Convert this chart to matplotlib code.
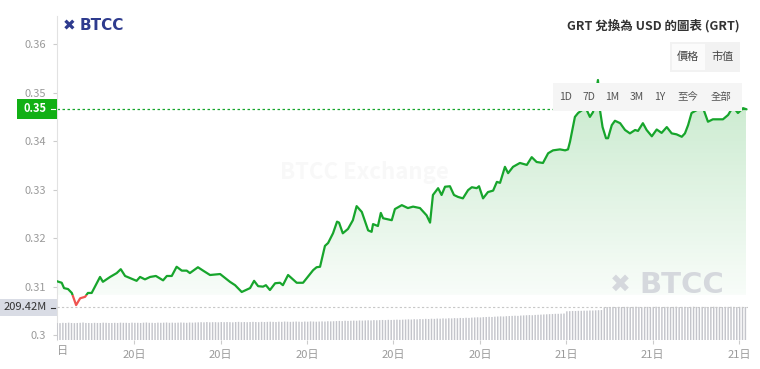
import numpy as np
import matplotlib
matplotlib.use("Agg")
import matplotlib.pyplot as plt
import matplotlib.patches as mpatches
from matplotlib.path import Path
from matplotlib.transforms import blended_transform_factory

plt.rcParams['font.family'] = ['Noto Sans CJK TC', 'DejaVu Sans']

# ---- data ----
# time in hours from the first (clipped) tick, price in USD
hours = [0.32, 0.48, 0.56, 0.70, 0.83, 0.98, 1.12, 1.29, 1.39, 1.52,
         1.81, 1.91, 2.16, 2.39, 2.53, 2.68, 3.08, 3.20, 3.37, 3.55,
         3.75, 4.00, 4.13, 4.30, 4.47, 4.65, 4.82, 4.93, 5.21, 5.39,
         5.63, 5.98, 6.32, 6.50, 6.73, 7.02, 7.16, 7.30, 7.47, 7.57,
         7.71, 7.89, 8.06, 8.16, 8.34, 8.64, 8.86, 9.21, 9.33, 9.45,
         9.62, 9.73, 9.90, 10.04, 10.11, 10.24, 10.42, 10.59, 10.72, 10.90,
         11.12, 11.24, 11.29, 11.46, 11.56, 11.64, 11.94, 12.05, 12.29, 12.50,
         12.68, 12.92, 13.15, 13.27, 13.37, 13.55, 13.67, 13.79, 13.96, 14.10,
         14.24, 14.41, 14.59, 14.72, 14.89, 14.97, 15.11, 15.28, 15.46, 15.59,
         15.70, 15.87, 15.98, 16.15, 16.39, 16.63, 16.80, 16.97, 17.19, 17.37,
         17.54, 17.78, 17.96, 18.06, 18.13, 18.30, 18.41, 18.55, 18.68, 18.82,
         18.93, 19.10, 19.17, 19.26, 19.38, 19.45, 19.58, 19.69, 19.87, 20.04,
         20.21, 20.39, 20.49, 20.66, 20.79, 20.97, 21.14, 21.31, 21.49, 21.66,
         21.83, 22.01, 22.12, 22.23, 22.35, 22.53, 22.75, 22.92, 23.09, 23.44,
         23.62, 23.79, 23.96, 24.14, 24.24]
price = [0.3111, 0.3108, 0.3097, 0.3095, 0.3087, 0.3062, 0.3076, 0.3079, 0.3087, 0.3087,
         0.3120, 0.3110, 0.3120, 0.3128, 0.3136, 0.3122, 0.3112, 0.3120, 0.3115, 0.3120,
         0.3122, 0.3113, 0.3122, 0.3122, 0.3141, 0.3133, 0.3133, 0.3128, 0.3140, 0.3133,
         0.3124, 0.3126, 0.3110, 0.3103, 0.3089, 0.3097, 0.3112, 0.3101, 0.3100, 0.3103,
         0.3093, 0.3107, 0.3108, 0.3103, 0.3124, 0.3108, 0.3108, 0.3134, 0.3140, 0.3141,
         0.3184, 0.3190, 0.3210, 0.3234, 0.3232, 0.3210, 0.3219, 0.3237, 0.3266, 0.3254,
         0.3216, 0.3213, 0.3229, 0.3225, 0.3252, 0.3241, 0.3237, 0.3260, 0.3268, 0.3262,
         0.3265, 0.3262, 0.3247, 0.3232, 0.3289, 0.3303, 0.3289, 0.3306, 0.3307, 0.3289,
         0.3285, 0.3282, 0.3299, 0.3305, 0.3303, 0.3307, 0.3282, 0.3295, 0.3298, 0.3316,
         0.3314, 0.3347, 0.3334, 0.3347, 0.3355, 0.3351, 0.3367, 0.3357, 0.3355, 0.3375,
         0.3381, 0.3383, 0.3381, 0.3383, 0.3399, 0.3450, 0.3458, 0.3464, 0.3468, 0.3450,
         0.3460, 0.3526, 0.3464, 0.3429, 0.3406, 0.3406, 0.3433, 0.3442, 0.3437, 0.3423,
         0.3416, 0.3423, 0.3421, 0.3437, 0.3423, 0.3410, 0.3424, 0.3417, 0.3429, 0.3416,
         0.3414, 0.3409, 0.3416, 0.3433, 0.3458, 0.3464, 0.3468, 0.3440, 0.3445, 0.3445,
         0.3454, 0.3471, 0.3458, 0.3468, 0.3466]
baseline = 0.3083

# volume bars (millions), one every 0.1 h
vol_start = 0.32
volume = [108, 107, 109, 108, 110, 108, 107, 108, 109, 111, 108, 108, 107, 109, 108, 108, 110, 109, 108, 108, 109, 108, 110, 109,
          109, 108, 110, 109, 109, 108, 110, 111, 109, 109, 108, 110, 109, 110, 111, 109, 110, 109, 110, 111, 110, 109, 111, 110,
          111, 112, 113, 112, 114, 112, 113, 113, 112, 114, 113, 114, 113, 112, 114, 115, 113, 114, 113, 114, 115, 114, 113, 115,
          114, 115, 116, 115, 114, 116, 115, 117, 116, 115, 116, 117, 116, 115, 117, 116, 118, 117, 116, 117, 118, 117, 119, 118,
          119, 120, 121, 120, 122, 121, 122, 123, 122, 124, 123, 124, 125, 124, 126, 125, 126, 127, 126, 128, 127, 128, 129, 128,
          129, 130, 131, 130, 132, 131, 133, 132, 134, 133, 135, 134, 136, 135, 137, 136, 138, 137, 139, 138, 140, 139, 141, 140,
          142, 143, 144, 143, 145, 146, 147, 146, 148, 149, 150, 149, 151, 152, 153, 154, 153, 155, 156, 157, 158, 157, 159, 160,
          161, 162, 163, 164, 165, 166, 166, 167, 168, 182, 183, 184, 184, 185, 185, 186, 186, 187, 187, 188, 189, 190, 207, 209,
          209, 210, 209, 210, 209, 210, 210, 209, 210, 211, 210, 209, 210, 210, 209, 210, 211, 210, 209, 210, 210, 209, 210, 211,
          209, 210, 210, 209, 210, 211, 210, 209, 210, 210, 209, 210, 211, 210, 210, 209, 210, 210, 211, 210, 209, 210, 210, 209.42]

tick_hours = [3, 6, 9, 12, 15, 18, 21, 24]
tick_labels = ['20日', '20日', '20日', '20日', '20日', '21日', '21日', '21日']
y_ticks = [0.30, 0.31, 0.32, 0.33, 0.34, 0.35, 0.36]
y_labels = ['0.3', '0.31', '0.32', '0.33', '0.34', '0.35', '0.36']
range_buttons = ['1D', '7D', '1M', '3M', '1Y', '至今', '全部']

green = '#17a52c'
red = '#ef5350'
grey_txt = '#9a9a9a'

W, H = 760, 369

fig = plt.figure(figsize=(7.6, 3.69), dpi=100)
fig.patch.set_facecolor('white')
ax = fig.add_axes([57 / W, 1 - 340 / H, (748 - 57) / W, (340 - 16) / H])

t = np.array(hours)
p = np.array(price)
xlim = (0.316, 24.31)
ylim = (0.2990, 0.3658)

# gradient fill above the baseline
fill = ax.fill_between(t, p, baseline, where=p >= baseline, interpolate=True,
                       facecolor='none', edgecolor='none')
clip = Path.make_compound_path(*fill.get_paths())
grad = np.zeros((100, 1, 4))
grad[:, 0, 0] = 0.09
grad[:, 0, 1] = 0.65
grad[:, 0, 2] = 0.17
grad[:, 0, 3] = np.linspace(0.03, 0.24, 100)
img = ax.imshow(grad, extent=[xlim[0], xlim[1], baseline, max(price)],
                origin='lower', aspect='auto', zorder=1, interpolation='bilinear')
img.set_clip_path(clip, transform=ax.transData)

# price line: green above the baseline, red below
lg, = ax.plot(t, p, color=green, lw=1.6, zorder=3, solid_joinstyle='round')
lr, = ax.plot(t, p, color=red, lw=1.6, zorder=3, solid_joinstyle='round')
top_rect = mpatches.Rectangle((xlim[0], baseline), xlim[1] - xlim[0], 1, transform=ax.transData)
bot_rect = mpatches.Rectangle((xlim[0], baseline - 1), xlim[1] - xlim[0], 1, transform=ax.transData)
lg.set_clip_path(top_rect)
lr.set_clip_path(bot_rect)

# last price guide
ax.axhline(price[-1], color=green, lw=0.9, ls=(0, (2, 2)), zorder=2)

ax.set_xlim(*xlim)
ax.set_ylim(*ylim)
ax.set_yticks(y_ticks, labels=y_labels)
ax.set_xticks(tick_hours, labels=tick_labels)
ax.tick_params(axis='both', colors='#cccccc', labelcolor=grey_txt, labelsize=8, length=3, width=0.8)
ax.tick_params(axis='x', pad=4)
ax.tick_params(axis='y', pad=5)
for s in ['top', 'right', 'bottom']:
    ax.spines[s].set_visible(False)
ax.spines['left'].set_color('#e2e2e2')
ax.text(0.52, -0.018, '日', transform=blended_transform_factory(ax.transData, ax.transAxes),
        ha='center', va='top', fontsize=8, color=grey_txt)

# volume
vax = ax.twinx()
vt = vol_start + 0.1 * np.arange(len(volume))
vax.bar(vt, volume, width=0.05, color='#c4c5cb', linewidth=0, snap=False, zorder=1)
vax.axhline(volume[-1], color='#c8c8c8', lw=0.8, ls=(0, (2, 2)))
vax.set_ylim(0, 2055)
vax.set_xlim(*xlim)
vax.axis('off')

# overlay layer in pixel coordinates (y down), drawn above the plot
ov = fig.add_axes([0, 0, 1, 1], zorder=5)
ov.set_xlim(0, W)
ov.set_ylim(H, 0)
ov.axis('off')
ov.patch.set_visible(False)

# watermarks
ov.text(280, 172, 'BTCC Exchange', fontsize=16, color='#f8f8f8', va='center', fontweight='bold')
ov.text(610, 285, '✖', fontsize=18, color='#d5d8dd', va='center', family='DejaVu Sans')
ov.text(639, 285, 'BTCC', fontsize=21, color='#d5d8dd', va='center', fontweight='bold', family='DejaVu Sans')

# logo
ov.text(63, 26, '✖', fontsize=11, color='#2e3b8e', va='center', family='DejaVu Sans')
ov.text(80, 26, 'BTCC', fontsize=11, color='#2e3b8e', va='center', fontweight='bold', family='DejaVu Sans')

# title
ov.text(740, 26, 'GRT 兌換為 USD 的圖表 (GRT)', fontsize=9, color='#333333',
        ha='right', va='center', fontweight='bold')

# price / market cap toggle
ov.add_patch(mpatches.Rectangle((670, 42), 70, 30, facecolor='#f2f2f2', edgecolor='none'))
ov.add_patch(mpatches.Rectangle((672, 44), 33, 26, facecolor='#fbfbfb', edgecolor='none'))
ov.text(688, 57, '價格', fontsize=8, color='#444444', ha='center', va='center')
ov.text(722, 57, '市值', fontsize=8, color='#444444', ha='center', va='center')

# range buttons
ov.add_patch(mpatches.Rectangle((553, 83), 189, 28, facecolor='#f5f5f5', edgecolor='none'))
btn_x = [566, 589, 612, 637, 660, 688, 721]
for bx, lab in zip(btn_x, range_buttons):
    ov.text(bx, 97, lab, fontsize=7.5, color='#555555', ha='center', va='center')

# current price tag
ov.add_patch(mpatches.Rectangle((17, 99), 40, 20, facecolor='#12b015', edgecolor='none'))
ov.text(46, 109, f'{price[-1]:.2f}', fontsize=8, color='white', fontweight='bold', ha='right', va='center')
ov.plot([51, 55], [109, 109], color='white', lw=0.8)

# current volume tag
ov.add_patch(mpatches.Rectangle((0, 299), 57, 17, facecolor='#d9dce5', edgecolor='none'))
ov.text(47, 307.5, f'{volume[-1]:.2f}M', fontsize=8, color='#333333', ha='right', va='center')
ov.plot([51, 55], [307.5, 307.5], color='#333333', lw=0.8)

fig.savefig('out.png', dpi=100, facecolor='white')
